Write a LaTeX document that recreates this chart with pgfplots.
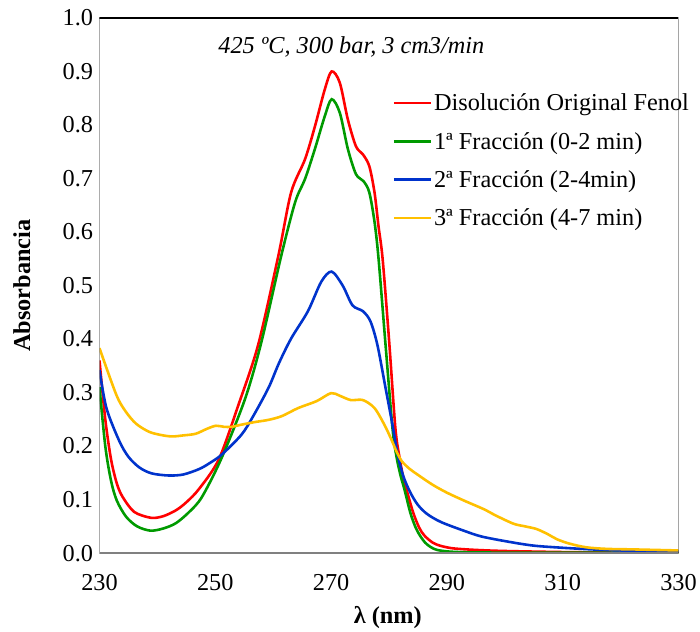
\documentclass[border=0pt]{standalone}
\usepackage{fontspec}
\setmainfont{Liberation Serif}
\usepackage{pgfplots}
\pgfplotsset{compat=1.18}
\definecolor{cred}{HTML}{FF0000}
\definecolor{cgreen}{HTML}{009A00}
\definecolor{cblue}{HTML}{0033CC}
\definecolor{cyellow}{HTML}{FFC000}
\definecolor{axgray}{HTML}{808080}
\newcommand{\fs}{\fontsize{24.5}{28}\selectfont}
\begin{document}
\begin{tikzpicture}[x=1bp,y=1bp]
\begin{axis}[
  scale only axis,
  width=582bp, height=538bp,
  at={(100bp,70bp)}, anchor=south west,
  xmin=230, xmax=330, ymin=0, ymax=1.0,
  xtick={230,250,...,330},
  ytick={0,0.1,...,1.0},
  major tick length=0pt,
  axis line style={draw=none},
  /pgf/number format/assume math mode=true,
  yticklabel style={/pgf/number format/fixed,/pgf/number format/fixed zerofill,/pgf/number format/precision=1, xshift=-3bp},
  xticklabel style={/pgf/number format/fixed,/pgf/number format/precision=0, yshift=-18bp},
  tick label style={font=\fs},
  xlabel={\textbf{λ (nm)}},
  ylabel={\textbf{Absorbancia}},
  label style={font=\fs},
  xlabel style={at={(axis description cs:0.498,-0.12)}, anchor=center},
  ylabel style={at={(axis description cs:-0.134,0.5)}, anchor=center},
  legend style={draw=none, fill=none, at={(0.506,0.862)}, anchor=north west,
    font=\fs, row sep=16bp, inner sep=0pt,
    /tikz/every even column/.append style={column sep=7bp}},
  legend cell align=left,
  legend image code/.code={\draw[#1,line width=2.6bp] (0bp,0bp) -- (37bp,0bp);},
  every axis plot/.append style={line width=2.6bp, smooth, tension=0.5},
]
\addplot[cred] coordinates {
(230,0.36) (231,0.25) (232,0.175) (233,0.13) (234,0.105) (236,0.077) (238.9,0.066)
(241,0.069) (243.2,0.08) (245,0.095) (247.2,0.12) (250.6,0.175) (254,0.277)
(257.4,0.389) (260.9,0.556) (263.1,0.674) (265.5,0.736) (267.2,0.797) (268.9,0.866)
(270.1,0.90) (271.5,0.879) (272.9,0.81) (274.3,0.76) (275.5,0.745) (276.6,0.723)
(277.5,0.674) (278.2,0.61) (278.9,0.55) (280,0.40) (281.1,0.234) (281.8,0.18)
(282.5,0.14) (283.2,0.112) (284.2,0.075) (285.2,0.048) (286.1,0.033) (287.5,0.02)
(288.8,0.014) (291,0.009) (295,0.006) (300,0.004) (310,0.002) (320,0.001) (330,0.001)
};
\addlegendentry{Disolución Original Fenol}
\addplot[cgreen] coordinates {
(230,0.31) (231,0.2) (232,0.135) (233,0.098) (234.6,0.068) (236.5,0.05) (238.8,0.042)
(241,0.046) (243.2,0.056) (245.5,0.077) (247.7,0.105) (251.1,0.178) (255.2,0.29)
(258,0.396) (261.4,0.556) (263.8,0.656) (265.5,0.699) (267.2,0.755) (268.9,0.816)
(270.1,0.848) (271.5,0.823) (272.9,0.755) (274.3,0.708) (275.6,0.695) (276.6,0.674)
(277.5,0.619) (278.2,0.55) (279.4,0.39) (280.6,0.234) (281.3,0.18) (282,0.145)
(282.7,0.118) (283.7,0.075) (284.6,0.048) (285.4,0.032) (286.5,0.017)
(288.3,0.006) (292,0.002) (300,0.001) (330,0.0005)
};
\addlegendentry{1ª Fracción (0-2 min)}
\addplot[cblue] coordinates {
(230,0.342) (231.2,0.271) (233.4,0.21) (235,0.18) (236.9,0.16) (239,0.149) (242,0.145)
(244.5,0.147) (247.2,0.157) (249,0.168) (251.1,0.184) (254.5,0.221) (256.5,0.255)
(259.2,0.309) (261,0.355) (263.1,0.401) (266,0.452) (268.3,0.507) (270.1,0.526)
(272,0.50) (273.7,0.463) (275.5,0.452) (276.8,0.433) (278,0.389) (279.4,0.309)
(280.6,0.24) (281.5,0.184) (282.5,0.143) (283.7,0.113) (285,0.09)
(286.6,0.073) (289,0.058) (292.9,0.042) (296,0.031) (300.8,0.021) (305,0.014)
(310,0.01) (315,0.007) (320,0.005) (325,0.004) (330,0.003)
};
\addlegendentry{2ª Fracción (2-4min)}
\addplot[cyellow] coordinates {
(230,0.383) (232.9,0.296) (234.5,0.265) (236.3,0.242) (238.5,0.227) (240.5,0.221)
(242.5,0.218) (244.5,0.22) (246.6,0.223) (248.5,0.232) (250.1,0.238) (251.5,0.236)
(252.8,0.236) (254.5,0.24) (256.9,0.245) (259.2,0.249) (261.5,0.256) (264.3,0.271)
(267.5,0.284) (270,0.299) (271.5,0.294) (273.4,0.286) (275.5,0.286) (277.5,0.271)
(279.2,0.24) (280.3,0.215)
(281.3,0.19) (282.2,0.172) (283.5,0.158) (284.9,0.147) (287.5,0.128) (290,0.113)
(293,0.098) (296.4,0.082) (298.5,0.07) (301.5,0.055) (303.5,0.05) (305.5,0.045)
(307.5,0.035) (309,0.026) (311.1,0.018) (314,0.011) (317.5,0.008) (322,0.007)
(326,0.006) (330,0.005)
};
\addlegendentry{3ª Fracción (4-7 min)}
\draw[axgray, line width=1.5bp] (rel axis cs:0,1) -- (rel axis cs:0,0) -- (rel axis cs:1,0);
\draw[black, line width=1.5bp] (rel axis cs:0,1) -- (rel axis cs:1,1) -- (rel axis cs:1,0);
\node[font=\fs\itshape] at (rel axis cs:0.435,0.946) {425 ºC, 300 bar, 3 cm3/min};
\end{axis}
\path (0,0) rectangle (700bp,626bp);
\end{tikzpicture}
\end{document}
